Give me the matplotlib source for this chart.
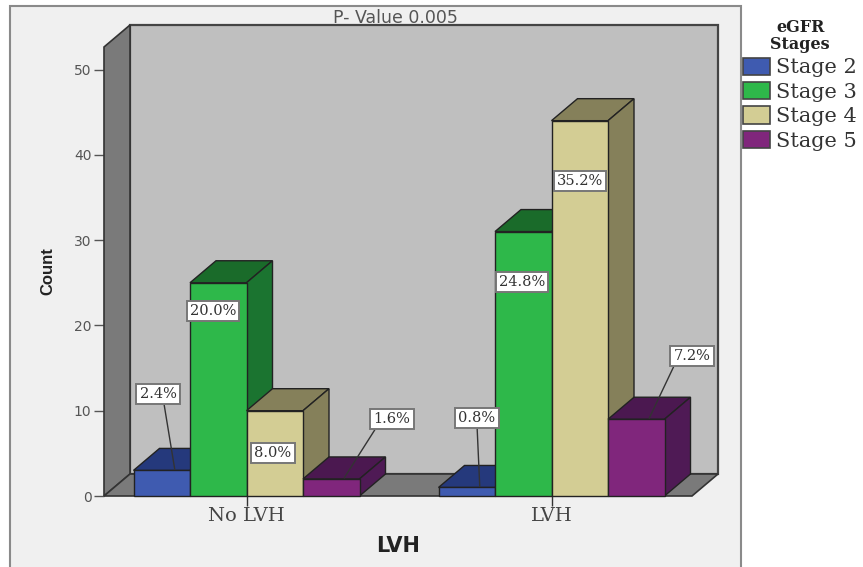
# LVH x eGFR stages, SPSS style 3D bars

import matplotlib
matplotlib.use("Agg")
import matplotlib.pyplot as plt
from matplotlib.patches import Rectangle, Patch

W, H = 863, 567

groups = ["No LVH", "LVH"]
stages = ["Stage 2", "Stage 3", "Stage 4", "Stage 5"]
stage2 = [3, 1]
stage3 = [25, 31]
stage4 = [10, 44]
stage5 = [2, 9]
percent2 = ["2.4%", "0.8%"]
percent3 = ["20.0%", "24.8%"]
percent4 = ["8.0%", "35.2%"]
percent5 = ["1.6%", "7.2%"]
yticks = [0, 10, 20, 30, 40, 50]

front = ["#3f5bb0", "#2eb84a", "#d3cd94", "#80267c"]
top = ["#25397c", "#1a6b2a", "#85805a", "#4b1850"]
side = ["#2a4088", "#1b7430", "#85805a", "#4f1a55"]

# label boxes, in image pixels (x, y from top), one row per stage
label_px = [[(158, 394), (477, 418)],
            [(213, 311), (522, 282)],
            [(273, 453), (580, 181)],
            [(392, 419), (692, 356)]]
# where the leader leaves the box, None = no leader
leader_rel = [[(0.65, 0), (0.5, 0)],
              [None, None],
              [None, None],
              [(0.1, 0), (0.05, 0)]]

fig = plt.figure(figsize=(W / 100, H / 100), dpi=100, facecolor="white")
fig.add_artist(Rectangle((10 / W, -0.01), 731 / W, 1.01 - 6 / H, transform=fig.transFigure,
                         facecolor="#f0f0f0", edgecolor="#8a8a8a", linewidth=1.5, zorder=0))

# axes = front plane of the box
left, right, bottom, upper = 104, 692, 496, 47
ax = fig.add_axes([left / W, (H - bottom) / H, (right - left) / W, (bottom - upper) / H])
ax.patch.set_visible(False)
px_x = 305.0   # pixels per group
px_y = 8.53    # pixels per count
ax.set_xlim((left - 246.5) / px_x, (right - 246.5) / px_x)
ax.set_ylim(0, (bottom - upper) / px_y)
dx = 26 / px_x
dy = 22 / px_y
x0, x1 = ax.get_xlim()
y0, y1 = ax.get_ylim()

edge = "#222222"
ax.fill([x0 + dx, x1 + dx, x1 + dx, x0 + dx], [y0 + dy, y0 + dy, y1 + dy, y1 + dy],
        facecolor="#bfbfbf", edgecolor="#444444", linewidth=1.6, clip_on=False, zorder=1)
ax.fill([x0, x0 + dx, x0 + dx, x0], [y0, y0 + dy, y1 + dy, y1],
        facecolor="#7a7a7a", edgecolor="#333333", linewidth=1.2, clip_on=False, zorder=2)
ax.fill([x0, x1, x1 + dx, x0 + dx], [y0, y0, y0 + dy, y0 + dy],
        facecolor="#7a7a7a", edgecolor="#333333", linewidth=1.2, clip_on=False, zorder=2)

# bars, left to right so each front covers the side of the one before
series = [stage2, stage3, stage4, stage5]
percents = [percent2, percent3, percent4, percent5]
bw = 56.5 / px_x
z = 3
for g in range(len(groups)):
    for s in range(len(stages)):
        xl = g + (s - 2) * bw
        v = series[s][g]
        ax.fill([xl, xl + bw, xl + bw + dx, xl + dx], [v, v, v + dy, v + dy],
                facecolor=top[s], edgecolor=edge, linewidth=1, clip_on=False, zorder=z)
        ax.fill([xl + bw, xl + bw + dx, xl + bw + dx, xl + bw], [0, dy, v + dy, v],
                facecolor=side[s], edgecolor=edge, linewidth=1, clip_on=False, zorder=z)
        ax.bar(xl, v, bw, align="edge", color=front[s], edgecolor=edge, linewidth=1,
               clip_on=False, zorder=z + 0.5)
        z += 1

box = dict(boxstyle="square,pad=0.22", facecolor="white", edgecolor="#777777", linewidth=1.4)
for g in range(len(groups)):
    for s in range(len(stages)):
        xl = g + (s - 2) * bw
        v = series[s][g]
        lx, ly = label_px[s][g]
        props = None
        if leader_rel[s][g] is not None:
            props = dict(arrowstyle="-", color="#333333", linewidth=1, shrinkA=0, shrinkB=0,
                         relpos=leader_rel[s][g])
        ax.annotate(percents[s][g], xy=(xl + bw / 2 + dx * 0.5, v + dy * 0.05),
                    xytext=(lx, H - ly), textcoords="figure pixels",
                    ha="center", va="center", fontsize=10.5, family="DejaVu Serif",
                    color="#333333", bbox=box, arrowprops=props, zorder=50)

for name in ax.spines:
    ax.spines[name].set_visible(False)
ax.set_yticks(yticks)
ax.set_xticks(range(len(groups)))
ax.set_xticklabels(groups, family="DejaVu Serif", fontsize=14, color="#444444")
ax.tick_params(axis="y", length=7, width=1, color="#555555", labelcolor="#555555", labelsize=10, pad=2)
ax.tick_params(axis="x", length=7, width=1, color="#333333", pad=1)
ax.set_ylabel("Count", fontweight="bold", fontsize=12, family="Liberation Sans",
              color="#222222", labelpad=0)
ax.yaxis.set_label_coords((48 - left) / (right - left), 0.5)
ax.set_xlabel("LVH", fontweight="bold", fontsize=15, color="#222222")
ax.xaxis.set_label_coords(0.50, -(546 - bottom) / (bottom - upper))
ax.xaxis.label.set_va("center")
ax.yaxis.label.set_va("center")

fig.text(395 / W, 1 - 18 / H, "P- Value 0.005", ha="center", va="center",
         fontsize=12.5, color="#555555", zorder=0.5)
ax.set_zorder(1)

handles = [Patch(facecolor=front[i], edgecolor="#444444", linewidth=1.2) for i in range(len(stages))]
leg = fig.legend(handles, stages, title="eGFR\nStages", loc="upper left",
                 bbox_to_anchor=(743 / W, 1 - 19 / H), frameon=False,
                 prop={"family": "DejaVu Serif", "size": 15}, labelcolor="#333333",
                 handlelength=1.3, handleheight=0.9, handletextpad=0.3, labelspacing=0.22,
                 borderpad=0.0, borderaxespad=0)
leg.get_title().set_fontfamily("DejaVu Serif")
leg.get_title().set_fontweight("bold")
leg.get_title().set_fontsize(11.5)
leg.get_title().set_color("#222222")
leg.get_title().set_multialignment("center")
leg.get_title().set_linespacing(1.0)

fig.savefig("out.png", dpi=100)
